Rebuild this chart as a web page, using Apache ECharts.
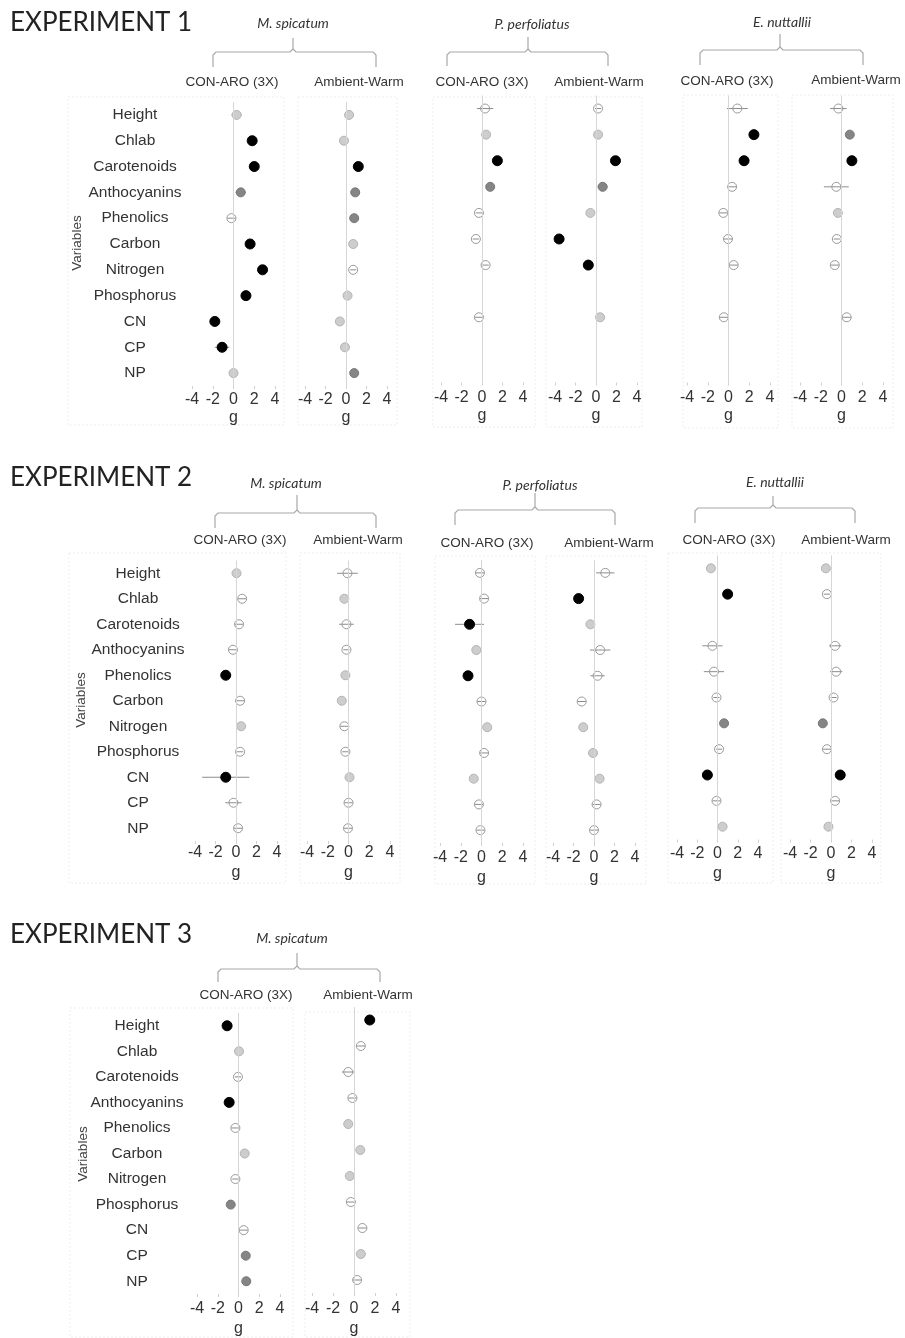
<!DOCTYPE html>
<html>
<head>
<meta charset="utf-8">
<script src="https://cdn.jsdelivr.net/npm/echarts@6/dist/echarts.min.js"></script>
<style>
  html, body { margin: 0; padding: 0; background: #fff; }
  #chart { width: 905px; height: 1338px; }
</style>
</head>
<body>
<div id="chart"></div>
<script>
// 变量（行）
const variables = ['Height', 'Chlab', 'Carotenoids', 'Anthocyanins', 'Phenolics', 'Carbon',
                   'Nitrogen', 'Phosphorus', 'CN', 'CP', 'NP'];
const speciesNames = ['M. spicatum', 'P. perfoliatus', 'E. nuttallii'];
const treatmentNames = ['CON-ARO (3X)', 'Ambient-Warm'];
const experimentNames = ['EXPERIMENT 1', 'EXPERIMENT 2', 'EXPERIMENT 3'];
const axisTitle = 'g';
const rowTitle = 'Variables';

// 每行: [g, 误差, 灰度(0 空心, 1 浅灰, 2 深灰, 3 黑)], null = 无数据
const exp1MspiCon = [[0.3,0.5,1],[1.8,0.3,3],[2.0,0.3,3],[0.7,0.5,2],[-0.2,0.4,0],[1.6,0.3,3],[2.8,0.3,3],[1.2,0.4,3],[-1.8,0.3,3],[-1.1,0.7,3],[0.0,0.4,1]];
const exp1MspiWarm = [[0.3,0.3,1],[-0.2,0.3,1],[1.2,0.3,3],[0.9,0.3,2],[0.8,0.3,2],[0.7,0.3,1],[0.7,0.3,0],[0.15,0.3,1],[-0.6,0.3,1],[-0.1,0.3,1],[0.8,0.3,2]];
const exp1PperCon = [[0.3,0.8,0],[0.4,0.3,1],[1.5,0.3,3],[0.8,0.3,2],[-0.3,0.3,0],[-0.6,0.3,0],[0.35,0.3,0],null,[-0.3,0.4,0],null,null];
const exp1PperWarm = [[0.2,0.3,0],[0.2,0.3,1],[1.9,0.3,3],[0.65,0.5,2],[-0.55,0.4,1],[-3.6,0.3,3],[-0.75,0.3,3],null,[0.4,0.3,1],null,null];
const exp1EnutCon = [[0.85,1.0,0],[2.45,0.3,3],[1.5,0.3,3],[0.35,0.4,0],[-0.5,0.4,0],[-0.05,0.4,0],[0.5,0.4,0],null,[-0.45,0.4,0],null,null];
const exp1EnutWarm = [[-0.3,0.8,0],[0.8,0.3,2],[1.0,0.3,3],[-0.5,1.2,0],[-0.35,0.3,1],[-0.45,0.3,0],[-0.65,0.4,0],null,[0.5,0.4,0],null,null];

const exp2MspiCon = [[0.05,0.3,1],[0.6,0.4,0],[0.3,0.4,0],[-0.3,0.4,0],[-1.0,0.3,3],[0.4,0.4,0],[0.5,0.4,1],[0.4,0.3,0],[-1.0,2.3,3],[-0.25,0.8,0],[0.2,0.4,0]];
const exp2MspiWarm = [[-0.1,1.0,0],[-0.4,0.3,1],[-0.2,0.7,0],[-0.2,0.3,0],[-0.3,0.3,1],[-0.65,0.3,1],[-0.4,0.4,0],[-0.3,0.3,0],[0.1,0.3,1],[0.0,0.4,0],[-0.05,0.4,0]];
const exp2PperCon = [[-0.15,0.4,0],[0.25,0.4,0],[-1.15,1.4,3],[-0.5,0.3,1],[-1.3,0.3,3],[0.0,0.4,0],[0.55,0.4,1],[0.25,0.4,0],[-0.75,0.3,1],[-0.25,0.4,0],[-0.1,0.4,0]];
const exp2PperWarm = [[1.1,0.9,0],[-1.5,0.3,3],[-0.35,0.3,1],[0.6,1.0,0],[0.35,0.7,0],[-1.2,0.4,0],[-1.05,0.3,1],[-0.1,0.3,1],[0.55,0.3,1],[0.25,0.4,0],[0.0,0.4,0]];
const exp2EnutCon = [[-0.65,0.3,1],[1.0,0.3,3],null,[-0.5,1.0,0],[-0.35,1.0,0],[-0.1,0.3,0],[0.65,0.3,2],[0.15,0.3,0],[-1.0,0.3,3],[-0.1,0.4,0],[0.5,0.3,1]];
const exp2EnutWarm = [[-0.5,0.3,1],[-0.4,0.3,0],null,[0.4,0.6,0],[0.5,0.6,0],[0.25,0.3,0],[-0.8,0.3,2],[-0.4,0.4,0],[0.9,0.3,3],[0.4,0.4,0],[-0.25,0.3,1]];

const exp3MspiCon = [[-1.1,0.5,3],[0.05,0.3,1],[-0.05,0.3,0],[-0.9,0.3,3],[-0.3,0.4,0],[0.6,0.4,1],[-0.3,0.3,0],[-0.75,0.3,2],[0.5,0.4,0],[0.7,0.4,2],[0.75,0.3,2]];
const exp3MspiWarm = [[1.5,0.3,3],[0.65,0.4,0],[-0.55,0.6,0],[-0.15,0.4,0],[-0.55,0.3,1],[0.6,0.3,1],[-0.4,0.3,1],[-0.3,0.4,0],[0.8,0.4,0],[0.65,0.4,1],[0.3,0.4,0]];

(function(){
    const chart = echarts.init(document.getElementById('chart'), null, {renderer: 'canvas'});
    const ARIAL = '"Liberation Sans", Arial, sans-serif';
    const CALIBRI = 'Lato, "Open Sans", sans-serif';
    const SHADES = [
        {fill: 'rgba(255,255,255,0)', stroke: '#9a9a9a'},
        {fill: '#cdcdcd', stroke: '#b4b4b4'},
        {fill: '#858585', stroke: '#777'},
        {fill: '#000', stroke: '#000'}
    ];

    // 面板布局
    const panels = [
        {data: exp1MspiCon,  left: 192, width: 83, top: 102,   height: 284,   labels: true, labelMargin: 57, tickMargin: 6, nameGap: 24},
        {data: exp1MspiWarm, left: 305, width: 82, top: 102,   height: 284,   tickMargin: 6, nameGap: 24},
        {data: exp1PperCon,  left: 441, width: 82, top: 95.5,  height: 287,   tickMargin: 7, nameGap: 25},
        {data: exp1PperWarm, left: 555, width: 82, top: 95.5,  height: 287,   tickMargin: 7, nameGap: 25},
        {data: exp1EnutCon,  left: 687, width: 83, top: 95.5,  height: 287,   tickMargin: 7, nameGap: 25},
        {data: exp1EnutWarm, left: 800, width: 83, top: 95.5,  height: 287,   tickMargin: 7, nameGap: 25},
        {data: exp2MspiCon,  left: 195, width: 82, top: 560.5, height: 280.5, labels: true, labelMargin: 57, tickMargin: 4, nameGap: 24},
        {data: exp2MspiWarm, left: 307, width: 83, top: 560.5, height: 280.5, tickMargin: 4, nameGap: 24},
        {data: exp2PperCon,  left: 440, width: 83, top: 560,   height: 283,   tickMargin: 7, nameGap: 27},
        {data: exp2PperWarm, left: 553, width: 82, top: 560,   height: 283,   tickMargin: 7, nameGap: 27},
        {data: exp2EnutCon,  left: 677, width: 81, top: 555.4, height: 284.2, tickMargin: 6, nameGap: 26},
        {data: exp2EnutWarm, left: 790, width: 82, top: 555.4, height: 284.2, tickMargin: 6, nameGap: 26},
        {data: exp3MspiCon,  left: 197, width: 83, top: 1013,  height: 284,   labels: true, labelMargin: 60, tickMargin: 7, nameGap: 27},
        {data: exp3MspiWarm, left: 312, width: 84, top: 1007,  height: 289,   tickMargin: 8, nameGap: 28}
    ];

    function renderMark(params, api){
        const g = api.value(0), row = api.value(1), err = api.value(2), shade = api.value(3);
        const c = api.coord([g, row]);
        const lo = api.coord([g - err, row]);
        const hi = api.coord([g + err, row]);
        const st = SHADES[shade];
        return {
            type: 'group',
            children: [
                {type: 'line', shape: {x1: lo[0], y1: c[1], x2: hi[0], y2: c[1]}, style: {stroke: '#8c8c8c', lineWidth: 1}},
                {type: 'circle', shape: {cx: c[0], cy: c[1], r: shade === 3 ? 5 : 4.5}, style: {fill: st.fill, stroke: st.stroke, lineWidth: 1}}
            ]
        };
    }

    const grid = [], xAxis = [], yAxis = [], series = [];
    panels.forEach((p, i) => {
        grid.push({left: p.left, top: p.top, width: p.width, height: p.height});
        xAxis.push({
            type: 'value', gridIndex: i, min: -4, max: 4, interval: 2,
            axisLine: {show: false},
            axisTick: {show: true, length: 3, lineStyle: {color: '#d0d0d0'}},
            splitLine: {show: false},
            axisLabel: {margin: p.tickMargin, fontSize: 16, color: '#333', fontFamily: ARIAL},
            name: axisTitle, nameLocation: 'middle', nameGap: p.nameGap,
            nameTextStyle: {fontSize: 16, color: '#333', fontFamily: ARIAL}
        });
        yAxis.push({
            type: 'category', gridIndex: i, data: variables, inverse: true,
            axisLine: {show: false}, axisTick: {show: false}, splitLine: {show: false},
            axisLabel: {show: !!p.labels, margin: p.labelMargin || 8, align: 'center',
                        fontSize: 15.5, color: '#333', fontFamily: ARIAL}
        });
        series.push({
            type: 'custom', xAxisIndex: i, yAxisIndex: i,
            renderItem: renderMark,
            encode: {x: 0, y: 1},
            data: p.data.map((d, k) => d ? [d[0], k, d[1], d[2]] : null).filter(Boolean),
            markLine: {
                silent: true, symbol: 'none', label: {show: false},
                lineStyle: {color: '#d6d6d6', type: 'solid', width: 1},
                data: [{xAxis: 0}]
            }
        });
    });

    // 图形元素：标题、物种、括号、处理标签、面板框
    const graphic = [];
    const text = (x, y, s, o) => graphic.push({
        type: 'text', x, y,
        style: Object.assign({text: s, align: 'center', verticalAlign: 'middle', fill: '#333', fontSize: 13.5, fontFamily: ARIAL}, o || {})
    });
    const box = (x, y, w, h) => graphic.push({
        type: 'rect', shape: {x, y, width: w, height: h}, z: -1,
        style: {fill: 'none', stroke: '#ededed', lineWidth: 1, lineDash: [2, 2]}
    });
    const brace = (l, r, c, h, bottom, top) => {
        const st = {stroke: '#a8a8a8', lineWidth: 1.2, fill: 'none'};
        graphic.push({type: 'polyline', shape: {points: [[l, bottom], [l, h + 3], [l + 3, h], [c - 3, h], [c, h - 3], [c, top]]}, style: st});
        graphic.push({type: 'polyline', shape: {points: [[r, bottom], [r, h + 3], [r - 3, h], [c + 3, h], [c, h - 3]]}, style: st});
    };

    // 实验标题
    [[23, 0], [478, 1], [935, 2]].forEach(([y, k]) => {
        text(10, y, experimentNames[k], {align: 'left', fontSize: 26, fill: '#222', fontFamily: CALIBRI});
    });

    // 物种名
    [[293, 23, 0], [532, 24, 1], [782, 22, 2],
     [286, 483, 0], [540, 485, 1], [775, 482, 2],
     [292, 938, 0]].forEach(([x, y, k]) => {
        text(x, y, speciesNames[k], {fontStyle: 'italic', fontSize: 14, fontFamily: CALIBRI});
    });

    // 括号
    brace(213, 376, 293, 52, 67, 38);
    brace(447, 608, 528, 52, 66, 37);
    brace(700, 863, 780, 50, 65, 34);
    brace(215, 376, 297, 513, 528, 495);
    brace(455, 615, 535, 510, 525, 493);
    brace(695, 855, 773, 508, 523, 496);
    brace(218, 380, 297, 969, 982, 953);

    // 处理标签
    [[232, 82], [359, 82, 1], [482, 82], [599, 82, 1], [727, 81], [856, 80, 1],
     [240, 540], [358, 540, 1], [487, 543], [609, 543, 1], [729, 540], [846, 540, 1],
     [246, 995], [368, 995, 1]].forEach(([x, y, k]) => text(x, y, treatmentNames[k || 0]));

    // Variables 轴名
    [[77, 243], [81, 700], [83, 1154]].forEach(([x, y]) => graphic.push({
        type: 'text', x, y, rotation: Math.PI / 2,
        style: {text: rowTitle, align: 'center', verticalAlign: 'middle', fill: '#444', fontSize: 13.5, fontFamily: ARIAL}
    }));

    // 面板框（淡色虚线）
    box(68, 97, 216, 328); box(298, 97, 99, 328);
    box(433, 97, 102, 330); box(546, 97, 96, 330);
    box(683, 95, 95, 333); box(792, 95, 101, 333);
    box(69, 553, 217, 330); box(300, 553, 100, 330);
    box(435, 556, 100, 328); box(546, 556, 100, 328);
    box(668, 553, 105, 330); box(781, 553, 100, 330);
    box(70, 1008, 223, 329); box(305, 1012, 105, 325);

    chart.setOption({
        animation: false,
        backgroundColor: '#fff',
        grid, xAxis, yAxis, series, graphic
    });
    window.addEventListener('resize', () => chart.resize());
})();
</script>
</body>
</html>
